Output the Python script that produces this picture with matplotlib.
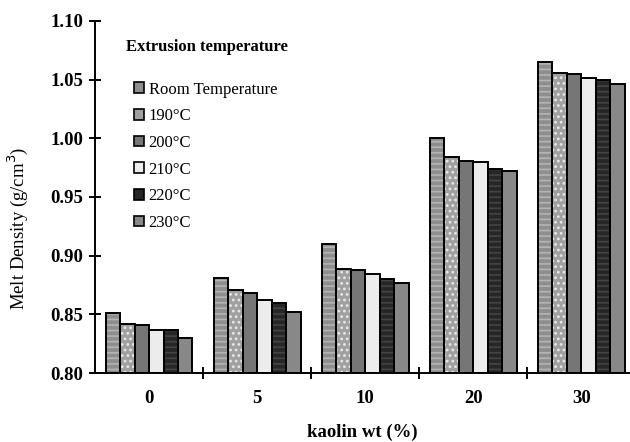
import matplotlib
matplotlib.use("Agg")
import matplotlib.pyplot as plt
from matplotlib.patches import Patch
import numpy as np

plt.rcParams.update({
    "font.family": ["Liberation Serif", "DejaVu Serif"],
    "hatch.linewidth": 1.2,
})

# kaolin loading groups
categories = ["0", "5", "10", "20", "30"]
series = ["Room Temperature", "190°C", "200°C", "210°C", "220°C", "230°C"]

# melt density (g/cm3), one list per extrusion temperature
room_temp = [0.851, 0.881, 0.910, 1.000, 1.065]
t190 = [0.842, 0.871, 0.889, 0.984, 1.056]
t200 = [0.841, 0.868, 0.888, 0.981, 1.055]
t210 = [0.837, 0.862, 0.884, 0.980, 1.051]
t220 = [0.837, 0.860, 0.880, 0.974, 1.050]
t230 = [0.830, 0.852, 0.877, 0.972, 1.046]
values = [room_temp, t190, t200, t210, t220, t230]

# grey-scale fills, plus a hatch to fake the textures of the original
faces = ["#8e8e8e", "#a0a0a0", "#767676", "#ececec", "#262626", "#888888"]
hatches = ["---", "...", None, None, "---", None]
hatch_cols = ["#b4b4b4", "#e8e8e8", None, None, "#444444", None]

fig = plt.figure(figsize=(6.3, 4.42), dpi=100)
ax = fig.add_axes([0.1508, 0.1561, 0.8492, 0.7964])

x = np.arange(len(categories))
w = 0.134
for k, vals in enumerate(values):
    pos = x + (k - 2.5) * w
    heights = np.array(vals) - 0.80
    ax.bar(pos, heights, w, bottom=0.80, color=faces[k], edgecolor="none", zorder=2)
    if hatches[k]:
        ax.bar(pos, heights, w, bottom=0.80, fill=False, hatch=hatches[k],
               edgecolor=hatch_cols[k], lw=0, zorder=3)
    ax.bar(pos, heights, w, bottom=0.80, fill=False, edgecolor="black", lw=1.4, zorder=4)

ax.set_xlim(-0.5, 4.45)
ax.set_ylim(0.80, 1.10)
yt = np.arange(0.80, 1.101, 0.05)
ax.set_yticks(yt)
ax.set_yticklabels([f"{v:.2f}" for v in yt], fontweight="bold", fontsize=13.5)
ax.set_xticks(x)
ax.set_xticklabels(categories, fontweight="bold", fontsize=13.5)
ax.set_xticks(x[:-1] + 0.5, minor=True)
ax.tick_params(axis="x", which="major", length=0, pad=12)
ax.tick_params(axis="x", which="minor", direction="inout", length=9, width=1.4)
ax.tick_params(axis="y", direction="inout", length=9, width=1.4, pad=4)

for side in ["top", "right"]:
    ax.spines[side].set_visible(False)
ax.spines["left"].set_linewidth(1.4)
ax.spines["bottom"].set_linewidth(1.4)

ax.set_ylabel("Melt Density (g/cm$^{3}$)", fontsize=13.5)
ax.yaxis.set_label_coords(-0.121, 0.41)
ax.set_xlabel("kaolin wt (%)", fontsize=13.5, fontweight="bold")
ax.xaxis.set_label_coords(0.5, -0.143)

ax.text(0.058, 0.926, "Extrusion temperature", transform=ax.transAxes,
        fontsize=12, fontweight="bold", va="center", ha="left")

handles = []
for k, name in enumerate(series):
    handles.append(Patch(facecolor=faces[k], edgecolor="black", lw=1.2, label=name))
ax.legend(handles=handles, loc="upper left", bbox_to_anchor=(0.072, 0.828),
          frameon=False, fontsize=12, handlelength=0.6, handleheight=0.6,
          handletextpad=0.3, labelspacing=0.64, borderpad=0, borderaxespad=0)

fig.savefig("out.png", dpi=100)
